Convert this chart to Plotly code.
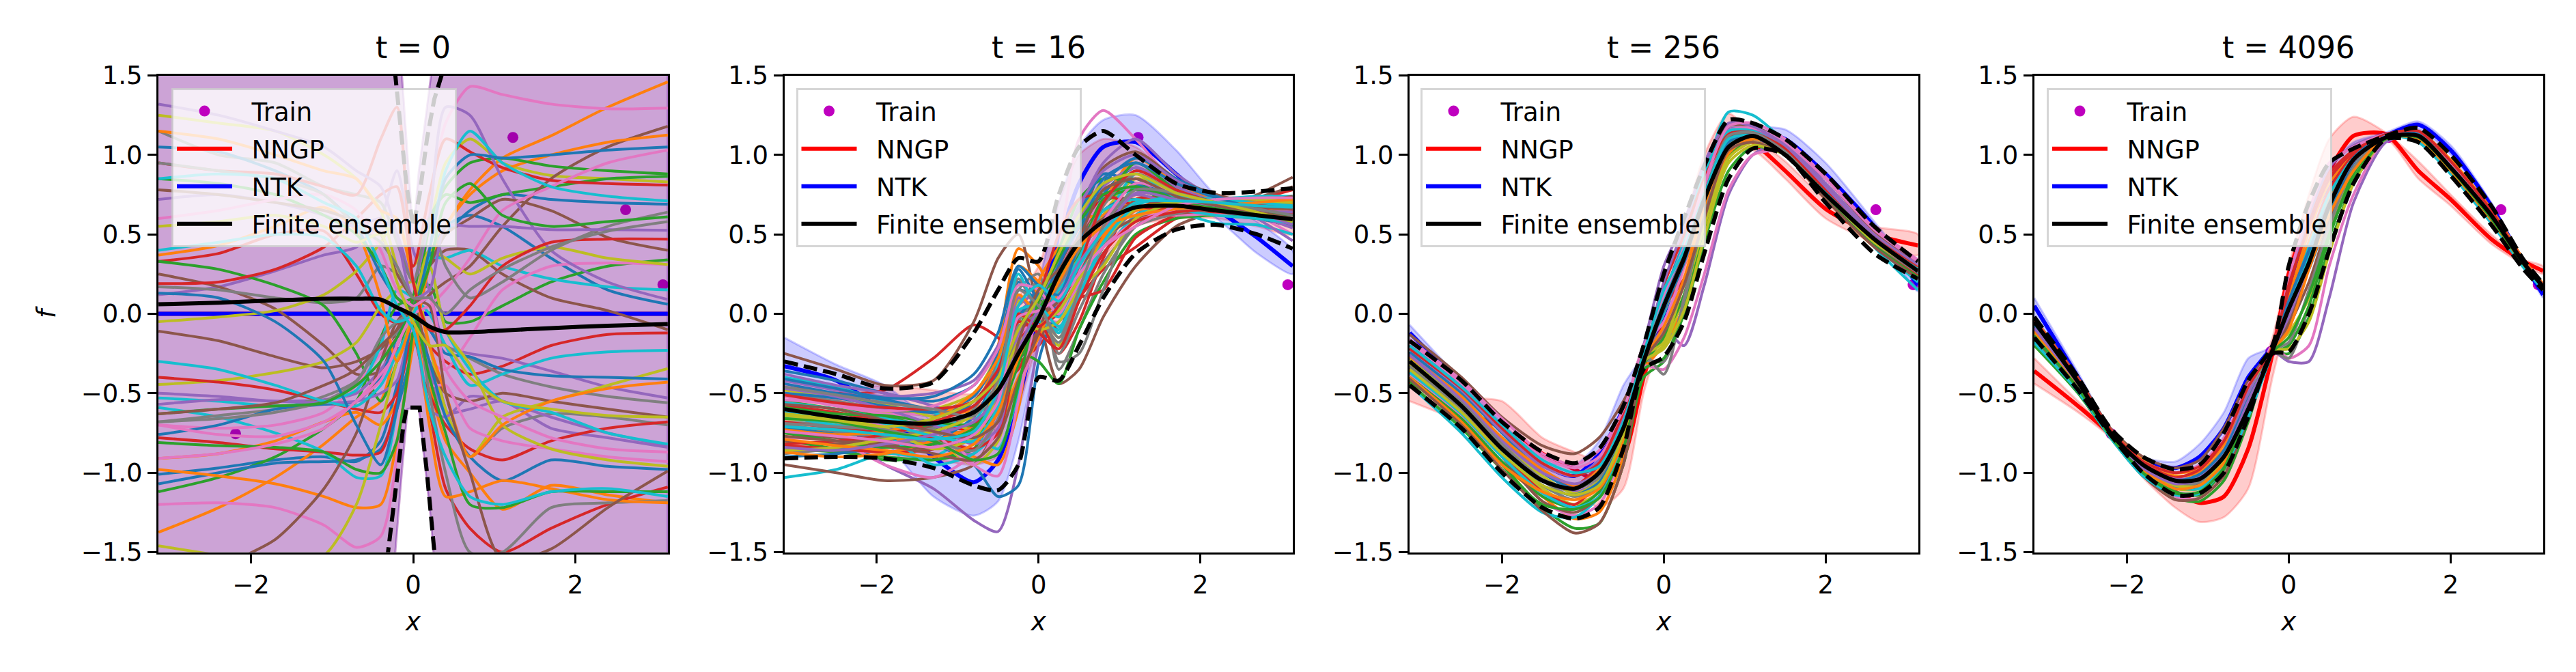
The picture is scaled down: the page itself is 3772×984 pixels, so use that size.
import plotly.graph_objects as go
from plotly.subplots import make_subplots

# colour cycle used by the ensemble members
tab10 = ["#1f77b4", "#ff7f0e", "#2ca02c", "#d62728", "#9467bd", "#8c564b", "#e377c2", "#7f7f7f", "#bcbd22", "#17becf"]

times = [0, 16, 256, 4096]
train_x = [-2.19, -0.22, 1.23, 2.62, 3.08]
train_y = [-0.755, -0.237, 1.11, 0.655, 0.183]

# --- t = 0 ---
x_t0 = [-3.14, -2.4, -1.7, -1.1, -0.7, -0.4, -0.2, 0, 0.2, 0.4, 0.7, 1.1, 1.7, 2.4, 3.14]
members_t0 = [
    [-1.01, -0.97, -0.92, -0.90, -0.93, -0.80, -0.45, -0.1, 0.35, 0.55, 0.62, 0.55, 0.35, 0.15, 0.06],
    [-1.375, -1.22, -1.03, -0.82, -0.65, -0.55, -0.2, 0.0, 0.30, 0.55, 0.78, 0.98, 1.12, 1.30, 1.46],
    [-1.12, -1.03, -0.90, -0.72, -0.55, -0.15, 0.05, 0.1, 0.18, -0.05, -0.05, 0.05, 0.20, 0.30, 0.34],
    [0.33, 0.38, 0.50, 0.52, 0.25, 0.0, -0.06, -0.04, -0.2, -0.3, -0.38, -0.33, -0.2, -0.13, -0.12],
    [0.12, 0.17, 0.27, 0.37, 0.42, 0.6, 0.9, 0.4, 0.15, -0.2, -0.25, -0.28, -0.36, -0.46, -0.53],
    [0.25, 0.17, 0.03, -0.20, -0.38, -0.36, -0.10, 0.1, 0.3, 0.4, 0.4, 0.25, 0.1, 0.02, -0.10],
    [-1.20, -1.19, -1.22, -1.33, -1.47, -1.4, -0.9, 0.0, 0.7, 1.2, 1.43, 1.38, 1.32, 1.29, 1.295],
    [0.17, 0.15, 0.10, 0.07, 0.10, 0.30, 0.25, 0.1, -0.1, -0.2, -0.28, -0.38, -0.46, -0.52, -0.56],
    [-0.05, -0.02, 0.02, 0.12, 0.27, 0.45, 0.6, 0.3, 0.55, 0.95, 1.1, 0.95, 0.87, 0.85, 0.83],
    [-0.59, -0.65, -0.75, -0.87, -1.03, -1.02, -0.6, 0.0, 0.35, 0.35, 0.40, 0.30, 0.22, 0.17, 0.15],
    [-1.07, -1.00, -0.94, -0.93, -0.92, -0.85, -0.6, -0.2, 0.3, 0.5, 0.65, 0.75, 0.72, 0.70, 0.69],
    [-0.91, -0.88, -0.8, -0.68, -0.62, -0.70, -0.55, -0.1, -0.45, -0.8, -1.0, -1.23, -1.08, -1.14, -1.19],
    [0.33, 0.28, 0.18, 0.05, -0.25, -0.55, -0.3, 0.1, 0.6, 0.75, 0.70, 0.75, 0.80, 0.85, 0.865],
    [-0.78, -0.81, -0.85, -0.87, -0.89, -0.87, -0.55, -0.15, -0.6, -1.1, -1.35, -1.5, -1.35, -1.2, -1.09],
    [-0.50, -0.52, -0.55, -0.54, -0.50, -0.35, -0.2, 0.0, -0.35, -0.62, -0.6, -0.55, -0.72, -0.78, -0.84],
    [-0.11, -0.17, -0.27, -0.34, -0.30, -0.22, -0.1, 0.0, 0.12, 0.2, 0.3, 0.55, 0.85, 1.05, 1.18],
    [-0.70, -0.72, -0.70, -0.62, -0.45, -0.25, -0.15, -0.05, -0.3, -0.35, -0.15, 0.15, 0.3, 0.32, 0.31],
    [-0.68, -0.64, -0.60, -0.52, -0.42, -0.2, -0.12, -0.05, -0.2, -0.6, -0.9, -0.72, -0.63, -0.65, -0.70],
    [-0.445, -0.42, -0.37, -0.30, -0.18, 0.05, 0.15, 0.2, -0.2, -0.6, -0.9, -0.65, -0.55, -0.45, -0.345],
    [-0.53, -0.55, -0.58, -0.55, -0.48, -0.2, 0.15, 0.1, 0.0, -0.2, -0.45, -0.38, -0.28, -0.24, -0.23],
    [-0.76, -0.70, -0.60, -0.57, -0.55, -0.4, -0.15, 0.0, -0.1, -0.25, -0.27, -0.35, -0.39, -0.40, -0.41],
    [-0.98, -1.02, -1.07, -1.15, -1.22, -1.2, -0.8, -0.2, 0.3, 0.55, 0.75, 0.9, 1.0, 1.08, 1.125],
    [-0.81, -0.83, -0.84, -0.87, -0.98, -1.0, -0.8, -0.1, 0.55, 0.8, 0.95, 0.98, 0.93, 0.9, 0.88],
    [-0.40, -0.43, -0.48, -0.55, -0.6, -0.62, -0.5, -0.05, -0.5, -0.7, -0.85, -0.92, -0.8, -0.72, -0.68],
    [-0.57, -0.54, -0.55, -0.56, -0.55, -0.5, -0.42, -0.05, -0.6, -0.65, -0.52, -0.55, -0.65, -0.75, -0.83],
    [-1.8, -1.6, -1.42, -1.1, -0.75, -0.3, -0.05, 0.05, -0.3, -0.5, -0.55, -0.5, -0.55, -0.6, -0.65],
    [-0.70, -0.76, -0.77, -0.68, -0.55, -0.38, -0.25, -0.1, -0.45, -0.45, -0.72, -0.8, -0.85, -0.9, -0.93],
    [-0.68, -0.66, -0.62, -0.55, -0.43, -0.15, -0.05, 0.0, -0.5, -1.0, -1.5, -1.5, -1.22, -1.19, -1.175],
    [-1.46, -1.52, -1.58, -1.52, -1.2, -0.7, -0.3, 0, 0.4, 0.35, 0.25, 0.35, 0.42, 0.35, 0.31],
    [-0.30, -0.35, -0.45, -0.55, -0.58, -0.45, -0.25, -0.05, 0.3, -0.1, -0.35, -0.55, -0.62, -0.75, -0.82],
    [0.13, 0.1, -0.05, -0.3, -0.7, -0.95, -0.6, -0.05, -0.3, -0.65, -0.90, -1.05, -0.92, -0.96, -0.98],
    [0.37, 0.43, 0.55, 0.67, 0.52, 0.1, -0.3, -0.05, -0.7, -1.15, -1.12, -1.05, -1.1, -1.17, -1.19],
    [-0.63, -0.60, -0.58, -0.56, -0.45, -0.3, -0.15, 0.0, -0.4, -0.75, -1.2, -1.22, -1.12, -1.12, -1.12],
    [0.19, 0.2, 0.28, 0.42, 0.6, 0.75, 0.8, 0.3, 0.75, 1.1, 1.02, 0.92, 0.84, 0.82, 0.81],
    [0.72, 0.75, 0.7, 0.62, 0.55, 0.6, 0.5, 0.2, 0.6, 1.3, 1.25, 0.85, 0.4, 0.2, 0.09],
    [-0.63, -0.6, -0.56, -0.45, -0.35, -0.2, -0.1, 0.05, 0.3, 0.5, 0.6, 0.72, 0.65, 0.48, 0.40],
    [-0.91, -0.88, -0.82, -0.72, -0.55, -0.42, -0.2, 0.0, 0.05, 0.15, 0.35, 0.65, 0.8, 0.95, 1.03],
    [1.15, 1.0, 0.95, 0.8, 0.75, 0.7, 0.45, 0.2, 0.6, 0.3, 0.1, 0.2, 0.4, 0.55, 0.64],
    [1.25, 1.2, 1.15, 1.0, 0.85, 0.65, 0.3, 0.1, 0.3, -0.1, -0.32, -0.7, -0.85, -0.92, -0.96],
    [0.4, 0.45, 0.5, 0.48, 0.3, 0.02, -0.05, 0.0, 0.4, 0.9, 1.15, 0.95, 0.8, 0.74, 0.71],
    [1.05, 1.02, 0.9, 0.75, 0.55, 0.25, 0.1, 0.05, 0.4, 0.85, 1.0, 0.98, 1.0, 1.03, 1.05],
    [1.15, 1.1, 1.0, 0.9, 0.85, 0.65, 0.6, 0.2, -0.2, -0.5, -0.9, -0.7, -0.55, -0.47, -0.43],
    [0.85, 0.82, 0.75, 0.62, 0.5, 0.3, 0.1, 0.05, 0.3, 0.7, 0.82, 0.62, 0.55, 0.58, 0.61],
    [0.95, 0.9, 0.88, 0.8, 0.75, 1.1, 1.3, 0.2, -0.1, -0.1, 0.05, 0.3, 0.45, 0.47, 0.47],
    [1.32, 1.25, 1.15, 1.05, 0.9, 0.8, 0.5, 0.1, 0.15, 0.55, 0.55, 0.55, 0.53, 0.53, 0.525],
    [0.78, 0.75, 0.7, 0.65, 0.58, 0.5, 0.25, 0.1, 0.05, -0.5, -1.0, -1.55, -1.48, -1.22, -0.99],
    [0.6, 0.65, 0.72, 0.75, 0.65, 0.4, 0.15, 0.05, 0.1, -0.35, -0.55, -0.65, -0.78, -0.85, -0.87],
    [0.95, 0.9, 0.85, 0.75, 0.55, 0.45, 0.3, 0.1, 0.1, 0.0, 0.15, 0.28, 0.42, 0.52, 0.58],
    [0.55, 0.58, 0.62, 0.55, 0.45, 0.5, 0.2, -0.05, -0.2, -0.2, -0.4, -0.55, -0.60, -0.64, -0.65],
    [0.85, 0.88, 0.85, 0.7, 0.6, 0.3, 0.05, -0.1, -0.6, -0.9, -1.15, -1.2, -1.12, -1.1, -1.15],
]
mean_t0 = [0.06, 0.07, 0.085, 0.095, 0.095, 0.09, 0.04, -0.01, -0.08, -0.115, -0.115, -0.105, -0.09, -0.075, -0.065]
dash_x_t0 = [-3.14, -0.5, -0.31, -0.22, -0.12, -0.08, 0, 0.08, 0.17, 0.26, 0.35, 0.5, 3.14]
dash_up_t0 = [6, 3.8, 2.1, 1.5, 1.0, 0.8, 0.55, 0.75, 1.1, 1.35, 1.5, 2.4, 6]
dash_low_t0 = [-6, -3, -1.5, -1.1, -0.7, -0.59, -0.59, -0.59, -1.0, -1.5, -2.0, -2.8, -6]
theory_x_t0 = [-3.14, -0.5, -0.22, -0.14, -0.07, 0, 0.07, 0.22, 0.25, 0.5, 3.14]
theory_mean_t0 = [0, 0, 0, 0, 0, 0, 0, 0, 0, 0, 0]
theory_up_t0 = [6, 4, 2.1, 1.5, 1.0, 0.5, 0.9, 1.5, 1.7, 4, 6]
theory_low_t0 = [-6, -3.2, -1.5, -1.0, -0.6, -0.59, -0.6, -1.3, -1.5, -3.2, -6]

# --- t = 16 ---
x_t16 = [-3.14, -2.5, -1.9, -1.3, -0.8, -0.5, -0.25, 0, 0.25, 0.5, 0.8, 1.2, 1.7, 2.2, 2.7, 3.14]
members_t16 = [
    [-.36, -.42, -.5, -.55, -.45, -.2, .2, .05, -.1, .3, .75, .92, .78, .7, .65, .6],
    [-.52, -.55, -.6, -.62, -.6, -.2, .41, .3, .1, .25, .55, .72, .7, .68, .66, .64],
    [-.8, -.85, -.92, -.9, -.85, -.5, .0, .05, .35, .55, .7, .78, .7, .65, .6, .55],
    [-.45, -.5, -.48, -.28, -.07, -.15, -.3, -.2, -.05, .1, .28, .42, .6, .66, .72, .78],
    [-.62, -.75, -.95, -1.1, -1.3, -1.37, -.95, -.2, .1, .4, .62, .82, .74, .7, .64, .58],
    [-.25, -.35, -.45, -.42, -.05, .35, .5, .0, -.44, -.35, -.02, .3, .55, .65, .75, .86],
    [-.45, -.55, -.62, -.7, -.8, -.85, -.5, -.1, .4, 1.1, 1.28, 1.1, .82, .72, .62, .5],
    [-.68, -.7, -.72, -.75, -.72, -.4, .05, .2, -.35, -.1, .25, .55, .68, .7, .7, .7],
    [-.55, -.6, -.62, -.6, -.5, -.25, .1, -.02, -.2, .2, .62, .85, .78, .72, .68, .65],
    [-1.03, -.98, -.88, -.9, -.72, -.45, -.1, .0, -.12, .1, .45, .8, .65, .57, .56, .5],
    [-.72, -.75, -.78, -.82, -.95, -1.15, -1.08, -.3, .1, .45, .65, .75, .68, .64, .6, .56],
    [-.6, -.62, -.68, -.72, -.75, -.6, .3, .2, .05, .4, .7, .98, .82, .72, .66, .6],
    [-.85, -.87, -.9, -.92, -.85, -.6, -.25, -.3, -.44, -.1, .2, .5, .6, .62, .6, .6],
    [-.58, -.62, -.68, -.72, -.62, -.45, -.35, -.1, .0, .1, .15, .48, .62, .66, .7, .72],
    [-.42, -.48, -.52, -.5, -.42, -.2, .05, .15, .3, .65, .95, 1.1, .88, .72, .6, .46],
    [-.95, -1.0, -1.05, -1.03, -.95, -.7, -.3, -.1, .15, .45, .72, .72, .65, .66, .73, .8],
    [-.78, -.8, -.95, -1.03, -.88, -.62, -.3, .05, .28, .5, .72, .88, .75, .68, .63, .6],
    [-.5, -.55, -.6, -.64, -.58, -.3, .15, .25, -.3, -.25, .15, .62, .72, .7, .67, .65],
    [-.66, -.68, -.7, -.78, -.95, -.8, -.25, .02, -.15, .08, .5, .72, .72, .7, .7, .72],
    [-.4, -.46, -.55, -.62, -.75, -.85, -.5, .05, -.02, .25, .55, .88, .72, .66, .62, .58],
    [-.9, -.88, -.84, -.8, -.65, -.35, .15, .1, .2, .5, .78, .85, .72, .68, .65, .62],
    [-.7, -.74, -.78, -.82, -.9, -.95, -.6, .2, .42, .6, .62, .75, .68, .65, .64, .63],
    [-.55, -.6, -.65, -.72, -.8, -.55, -.15, .05, .4, .72, .85, .82, .72, .68, .64, .6],
    [-.83, -.85, -.87, -.85, -.7, -.5, -.2, -.05, -.25, -.05, .35, .72, .72, .68, .66, .65],
    [-.62, -.67, -.72, -.82, -.88, -.6, .0, .1, .05, .35, .6, .75, .68, .64, .62, .6],
    [-.75, -.78, -.82, -.85, -.75, -.42, .1, .0, .3, .55, .92, 1.02, .85, .75, .68, .6],
    [-.52, -.58, -.63, -.65, -.95, -1.02, -.55, .0, .12, .32, .55, .62, .62, .63, .64, .66],
    [-.88, -.85, -.82, -.78, -.6, -.3, .22, .0, -.18, .1, .42, .65, .66, .67, .68, .69],
    [-.48, -.52, -.57, -.65, -.72, -.45, .08, .05, .2, .42, .58, .7, .7, .7, .7, .7],
    [-.65, -.7, -.76, -.95, -.88, -.72, -.2, -.05, -.1, .18, .38, .62, .7, .72, .74, .74],
    [-.5, -.53, -.58, -.62, -.52, -.25, .28, .1, .3, .62, .88, .82, .7, .66, .62, .58],
    [-.87, -.9, -.88, -.8, -.72, -.68, -.4, -.15, .15, .35, .5, .65, .67, .67, .68, .68],
    [-.75, -.8, -.84, -.82, -.72, -.5, -.1, .12, .22, .38, .72, .78, .7, .66, .64, .62],
    [-.68, -.72, -.75, -.78, -.85, -.75, -.2, .1, .5, .72, .75, .68, .65, .64, .63, .62],
    [-.38, -.45, -.5, -.58, -.66, -.55, .1, .0, .1, .6, .8, .92, .8, .7, .62, .54],
    [-.8, -.82, -.8, -.7, -.55, -.35, -.08, -.02, .08, .28, .48, .6, .63, .66, .7, .74],
    [-.6, -.64, -.7, -.75, -.95, -.7, -.15, -.03, -.05, .2, .42, .58, .66, .7, .7, .7],
    [-.7, -.74, -.78, -.72, -.62, -.55, -.05, .08, -.25, .02, .32, .55, .63, .68, .7, .72],
    [-.63, -.66, -.72, -.85, -.78, -.5, .0, -.1, -.05, .15, .3, .6, .7, .72, .72, .71],
    [-.56, -.6, -.66, -.7, -.68, -.32, .25, .02, .15, .35, .65, .72, .66, .62, .6, .57],
    [-.44, -.5, -.54, -.6, -.58, -.38, -.02, .12, .32, .55, .82, .98, .85, .74, .67, .62],
    [-.73, -.76, -.74, -.66, -.5, -.28, .12, .0, .02, .22, .48, .7, .68, .68, .66, .66],
    [-.59, -.63, -.64, -.68, -.7, -.62, -.32, .02, .22, .42, .68, .95, .78, .69, .65, .62],
    [-.82, -.8, -.76, -.68, -.58, -.4, -.05, -.12, -.22, .08, .38, .58, .64, .66, .68, .7],
    [-.47, -.52, -.6, -.7, -.82, -.72, -.12, .08, .35, .68, .9, 1.0, .84, .72, .64, .56],
    [-.77, -.8, -.83, -.88, -.92, -.78, -.42, -.12, .25, .48, .6, .7, .7, .68, .67, .66],
    [-.54, -.57, -.61, -.58, -.45, -.22, .18, .15, .0, .28, .58, .82, .76, .71, .66, .61],
    [-.69, -.71, -.73, -.8, -.86, -.66, -.08, .0, .18, .4, .68, .88, .76, .68, .63, .58],
    [-.86, -.84, -.79, -.74, -.64, -.46, -.18, -.08, .02, .22, .45, .66, .7, .7, .7, .7],
    [-.61, -.65, -.69, -.77, -.8, -.58, .02, .05, -.08, .12, .45, .68, .74, .72, .7, .68],
    [-.41, -.47, -.53, -.52, -.38, -.12, .3, .18, .12, .45, .85, .95, .82, .73, .66, .58],
    [-.79, -.83, -.86, -.9, -.82, -.62, -.28, -.02, .2, .42, .55, .62, .66, .68, .7, .72],
    [-.66, -.68, -.74, -.8, -.92, -.88, -.45, .08, .35, .58, .75, .8, .72, .67, .64, .62],
    [-.51, -.56, -.59, -.6, -.55, -.35, .0, -.08, .05, .3, .7, .9, .78, .7, .66, .63],
    [-.84, -.86, -.82, -.76, -.68, -.52, -.22, .02, .1, .32, .52, .76, .72, .68, .65, .64],
    [-.57, -.6, -.67, -.74, -.78, -.68, -.18, .15, .28, .48, .78, .85, .74, .68, .64, .6],
    [-.74, -.77, -.8, -.84, -.76, -.55, -.02, .02, .1, .25, .42, .55, .68, .72, .73, .73],
    [-.46, -.51, -.56, -.6, -.64, -.42, .15, .05, -.15, .15, .55, .78, .76, .7, .66, .62],
    [-.64, -.67, -.71, -.66, -.55, -.4, -.1, .1, .38, .62, .82, .88, .76, .7, .64, .58],
    [-.71, -.73, -.76, -.79, -.74, -.48, .05, .18, .08, .3, .52, .7, .71, .7, .68, .67],
]
mean_t16 = [-.6, -.65, -.68, -.69, -.62, -.48, -.25, -.03, .25, .45, .58, .67, .68, .65, .62, .595]
dash_up_t16 = [-.3, -.38, -.47, -.43, -.12, .15, .35, .33, .75, 1.05, 1.15, 1.0, .82, .76, .77, .79]
dash_low_t16 = [-.91, -.9, -.91, -.97, -1.08, -1.11, -.95, -.4, -.42, -.2, .1, .38, .53, .56, .5, .41]
nngp_mean_t16 = [-.62, -.66, -.68, -.70, -.72, -.6, -.25, 0, .3, .55, .72, .8, .72, .68, .64, .6]
nngp_up_t16 = [-.4, -.48, -.45, -.48, -.5, -.3, .1, .3, .7, 1.0, 1.1, 1.05, .85, .75, .72, .7]
nngp_low_t16 = [-.85, -.85, -.9, -.92, -.95, -.9, -.6, -.2, -.1, .1, .35, .55, .6, .6, .55, .5]
ntk_mean_t16 = [-.33, -.42, -.62, -.9, -1.06, -.92, -.55, 0, .45, .82, 1.05, 1.08, .88, .66, .48, .3]
ntk_up_t16 = [-.15, -.32, -.45, -.68, -.85, -.65, -.2, .2, .7, 1.05, 1.22, 1.25, 1.03, .74, .58, .4]
ntk_low_t16 = [-.5, -.55, -.8, -1.15, -1.27, -1.18, -.8, -.2, .2, .55, .85, .93, .75, .6, .38, .25]

# --- t = 256 ---
x_t256 = [-3.14, -2.5, -2, -1.5, -1.1, -0.8, -0.5, -0.25, 0, 0.25, 0.5, 0.8, 1.1, 1.5, 2, 2.6, 3.14]
members_t256 = [
    [-.2, -.45, -.72, -.95, -1.02, -.95, -.7, -.28, .12, .45, .85, 1.1, 1.13, 1.02, .78, .48, .28],
    [-.36, -.65, -.95, -1.15, -1.29, -1.25, -.9, -.35, -.2, .05, .55, 1.0, 1.08, 1.0, .72, .42, .24],
    [-.42, -.68, -.95, -1.22, -1.35, -1.32, -.95, -.4, -.3, .05, .5, .98, 1.1, 1.03, .75, .46, .25],
    [-.3, -.55, -.78, -1.0, -1.08, -.95, -.62, -.2, .1, .4, .82, 1.13, 1.15, 1.02, .76, .46, .26],
    [-.25, -.52, -.8, -1.05, -1.12, -1.05, -.78, -.3, -.1, -.2, .18, .75, 1.0, 1.08, .82, .5, .3],
    [-.13, -.4, -.65, -.83, -.88, -.78, -.55, -.28, .0, .4, .9, 1.18, 1.18, 1.08, .85, .52, .32],
    [-.38, -.65, -.9, -1.18, -1.27, -1.2, -.85, -.33, -.35, -.15, .25, .78, 1.0, 1.02, .76, .47, .27],
    [-.28, -.55, -.82, -1.05, -1.15, -1.08, -.78, -.3, -.3, .08, .6, 1.05, 1.1, 1.03, .78, .48, .28],
    [-.32, -.6, -.87, -1.1, -1.2, -1.12, -.82, -.3, -.2, .12, .55, .98, 1.08, 1.0, .74, .44, .27],
    [-.45, -.75, -1.03, -1.25, -1.28, -1.15, -.8, -.28, .0, .35, .85, 1.27, 1.25, 1.08, .8, .42, .15],
    [-.24, -.5, -.75, -1.0, -1.1, -1.02, -.72, -.3, .08, .4, .78, 1.08, 1.12, 1.02, .78, .46, .25],
    [-.27, -.52, -.78, -.98, -1.08, -.98, -.66, -.22, .02, .3, .68, 1.02, 1.1, 1.05, .8, .5, .3],
    [-.4, -.66, -.93, -1.15, -1.22, -1.12, -.82, -.32, -.15, .12, .62, 1.08, 1.12, 1.02, .74, .44, .24],
    [-.35, -.6, -.88, -1.12, -1.2, -1.05, -.72, -.22, .05, .22, .7, 1.1, 1.15, 1.03, .76, .45, .24],
    [-.22, -.48, -.74, -.96, -1.02, -.92, -.65, -.2, .3, .58, .92, 1.16, 1.16, 1.06, .82, .5, .31],
    [-.34, -.62, -.9, -1.18, -1.25, -1.15, -.78, -.28, .05, .38, .78, 1.12, 1.13, 1.02, .76, .45, .26],
    [-.18, -.44, -.7, -.9, -.97, -.9, -.62, -.2, -.05, .3, .8, 1.15, 1.17, 1.08, .85, .53, .33],
    [-.33, -.6, -.85, -1.08, -1.17, -1.08, -.72, -.25, -.38, .1, .62, 1.05, 1.12, 1.05, .8, .48, .29],
    [-.29, -.56, -.82, -1.02, -1.13, -1.05, -.75, -.27, -.18, .2, .68, 1.08, 1.13, 1.03, .78, .47, .27],
    [-.37, -.63, -.9, -1.13, -1.22, -1.15, -.82, -.28, .1, .45, .9, 1.15, 1.15, 1.03, .74, .43, .2],
    [-.3, -.58, -.86, -1.08, -1.14, -1.06, -.76, -.3, .02, .32, .72, 1.08, 1.13, 1.02, .76, .46, .26],
    [-.4, -.68, -.95, -1.12, -1.17, -1.1, -.8, -.3, -.08, .22, .68, 1.05, 1.11, 1.02, .77, .47, .28],
    [-.44, -.72, -.98, -1.2, -1.23, -1.16, -.85, -.35, -.28, .0, .45, .9, 1.05, 1.0, .73, .43, .23],
    [-.22, -.47, -.72, -.94, -1.02, -.94, -.62, -.25, .18, .5, .85, 1.13, 1.14, 1.04, .78, .48, .29],
    [-.26, -.54, -.8, -1.0, -1.07, -1.0, -.68, -.26, .2, .55, .95, 1.2, 1.18, 1.06, .8, .48, .27],
    [-.41, -.7, -.98, -1.24, -1.38, -1.32, -.95, -.3, -.12, .18, .6, 1.03, 1.08, 1.0, .72, .42, .22],
    [-.16, -.42, -.66, -.88, -.95, -.86, -.6, -.22, .12, .42, .82, 1.18, 1.2, 1.1, .86, .54, .34],
    [-.3, -.56, -.82, -1.04, -1.1, -1.03, -.7, -.24, .05, .35, .75, 1.12, 1.14, 1.02, .75, .45, .26],
    [-.35, -.62, -.88, -1.08, -1.14, -1.08, -.76, -.3, -.22, .02, .48, .95, 1.06, 1.0, .75, .45, .28],
    [-.2, -.46, -.7, -.92, -1.0, -.96, -.68, -.25, .15, .4, .75, 1.1, 1.12, 1.0, .76, .47, .28],
]
mean_t256 = [-.3, -.58, -.85, -1.05, -1.1, -1.0, -.72, -.3, .05, .35, .72, 1.05, 1.12, 1.0, .75, .47, .27]
dash_up_t256 = [-.17, -.42, -.68, -.87, -.94, -.85, -.58, -.2, .25, .6, .93, 1.22, 1.2, 1.1, .88, .55, .33]
dash_low_t256 = [-.45, -.72, -1.0, -1.22, -1.29, -1.22, -.85, -.35, -.27, -.05, .38, .85, 1.04, 1.0, .7, .38, .22]
nngp_mean_t256 = [-.43, -.6, -.72, -.88, -.98, -1.05, -.9, -.4, 0, .4, .85, 1.15, 1.08, .9, .66, .5, .43]
nngp_up_t256 = [-.33, -.52, -.55, -.78, -.87, -.92, -.72, -.25, .1, .55, 1.0, 1.26, 1.12, .96, .72, .55, .5]
nngp_low_t256 = [-.55, -.68, -.8, -.98, -1.1, -1.22, -1.1, -.5, -.1, .25, .7, 1.02, 1.03, .85, .6, .45, .37]
ntk_mean_t256 = [-.12, -.45, -.72, -.95, -1.02, -.88, -.6, -.28, .0, .4, .85, 1.15, 1.15, 1.1, .88, .55, .18]
ntk_up_t256 = [-.07, -.42, -.68, -.92, -.95, -.8, -.45, -.25, .1, .5, .95, 1.2, 1.18, 1.16, .95, .58, .22]
ntk_low_t256 = [-.17, -.48, -.75, -.98, -1.08, -.95, -.75, -.32, -.1, .3, .75, 1.1, 1.12, 1.05, .85, .52, .14]

# --- t = 4096 ---
x_t4096 = [-3.14, -2.6, -2.2, -1.8, -1.4, -1.1, -.8, -.5, -.2, 0, .25, .5, .8, 1.2, 1.6, 2, 2.5, 2.9, 3.14]
members_t4096 = [
    [-.08, -.44, -.75, -.96, -1.06, -1.03, -.88, -.55, -.23, .05, .38, .72, .98, 1.12, 1.12, .93, .62, .32, .18],
    [-.05, -.42, -.74, -.93, -1.0, -.98, -.82, -.5, -.2, .1, .52, .82, 1.0, 1.12, 1.15, .97, .66, .34, .17],
    [-.2, -.5, -.78, -1.02, -1.16, -1.18, -1.05, -.68, -.25, -.25, -.02, .42, .82, 1.1, 1.1, .9, .6, .32, .18],
    [-.1, -.45, -.76, -.98, -1.08, -1.07, -.9, -.52, -.22, .08, .45, .78, 1.0, 1.13, 1.13, .92, .6, .3, .16],
    [-.12, -.46, -.77, -.99, -1.12, -1.13, -.98, -.62, -.24, -.3, -.3, .1, .7, 1.08, 1.12, .94, .63, .33, .18],
    [-.03, -.4, -.72, -.9, -.97, -.92, -.72, -.42, -.22, -.05, .3, .7, .98, 1.12, 1.15, .95, .64, .34, .18],
    [-.14, -.47, -.77, -1.0, -1.15, -1.16, -.98, -.62, -.2, -.28, -.2, .3, .75, 1.1, 1.1, .9, .6, .3, .16],
    [-.07, -.43, -.74, -.95, -1.05, -1.02, -.88, -.58, -.24, -.28, .05, .5, .9, 1.12, 1.13, .94, .63, .33, .17],
    [-.16, -.48, -.77, -1.0, -1.1, -1.1, -.93, -.56, -.23, -.12, .1, .55, .9, 1.11, 1.12, .93, .62, .32, .17],
    [-.11, -.45, -.75, -.97, -1.09, -1.1, -.95, -.62, -.24, .0, .35, .65, .95, 1.12, 1.08, .88, .58, .3, .15],
    [-.13, -.46, -.76, -1.0, -1.1, -1.08, -.92, -.6, -.23, .02, .28, .62, .95, 1.13, 1.11, .91, .6, .31, .18],
    [-.03, -.41, -.73, -.92, -1.02, -1.0, -.85, -.52, -.2, .12, .45, .72, .96, 1.12, 1.14, .96, .65, .34, .19],
    [-.17, -.49, -.78, -1.0, -1.12, -1.14, -.98, -.6, -.25, -.2, .05, .48, .88, 1.11, 1.1, .9, .6, .31, .17],
    [-.06, -.43, -.74, -.94, -1.03, -.98, -.8, -.45, -.22, .15, .6, .88, 1.03, 1.13, 1.14, .95, .62, .32, .16],
    [-.09, -.44, -.75, -.96, -1.04, -1.02, -.86, -.5, -.22, .2, .62, .92, 1.06, 1.13, 1.14, .95, .64, .33, .18],
    [-.15, -.47, -.77, -1.02, -1.17, -1.16, -1.02, -.65, -.24, -.08, .2, .58, .92, 1.1, 1.12, .92, .62, .32, .17],
    [-.05, -.42, -.73, -.93, -1.0, -.95, -.78, -.45, -.21, .22, .65, .95, 1.05, 1.13, 1.13, .95, .63, .33, .17],
    [-.1, -.45, -.76, -.97, -1.07, -1.06, -.9, -.56, -.23, -.18, .15, .55, .92, 1.12, 1.13, .93, .62, .32, .18],
    [-.12, -.46, -.76, -.98, -1.08, -1.08, -.92, -.56, -.23, -.22, -.05, .38, .82, 1.1, 1.12, .93, .62, .32, .17],
    [-.18, -.49, -.78, -1.02, -1.14, -1.13, -.97, -.65, -.24, .05, .42, .75, .98, 1.12, 1.09, .88, .57, .29, .15],
    [-.07, -.43, -.75, -.95, -1.05, -1.01, -.86, -.54, -.22, .08, .4, .7, .98, 1.13, 1.13, .92, .62, .32, .18],
    [-.11, -.45, -.76, -.98, -1.1, -1.08, -.94, -.6, -.24, -.1, .28, .62, .9, 1.11, 1.1, .9, .59, .31, .17],
    [-.14, -.47, -.77, -1.0, -1.13, -1.12, -.97, -.6, -.24, -.15, .12, .5, .85, 1.1, 1.11, .91, .6, .31, .17],
    [-.04, -.41, -.73, -.93, -1.0, -.96, -.8, -.46, -.21, .18, .55, .85, 1.02, 1.13, 1.15, .96, .65, .33, .18],
    [-.09, -.44, -.75, -.97, -1.07, -1.04, -.9, -.55, -.23, -.02, .32, .68, .96, 1.12, 1.12, .93, .62, .32, .17],
]
mean_t4096 = [-.05, -.43, -.75, -.95, -1.05, -1.04, -.9, -.6, -.23, .03, .32, .68, .97, 1.11, 1.12, .92, .62, .32, .17]
dash_up_t4096 = [-.02, -.4, -.72, -.9, -.98, -.95, -.75, -.42, -.2, .3, .7, .95, 1.04, 1.12, 1.17, 1.0, .68, .34, .19]
dash_low_t4096 = [-.15, -.48, -.76, -1.0, -1.14, -1.13, -1.0, -.65, -.25, -.24, .0, .4, .82, 1.1, 1.08, .87, .56, .28, .15]
nngp_mean_t4096 = [-.36, -.58, -.76, -.98, -1.12, -1.19, -1.15, -.85, -.25, .25, .62, .9, 1.12, 1.13, .9, .72, .47, .33, .27]
nngp_up_t4096 = [-.28, -.55, -.74, -.9, -1.05, -1.12, -1.0, -.55, -.15, .3, .75, 1.1, 1.24, 1.14, .96, .75, .5, .34, .3]
nngp_low_t4096 = [-.44, -.62, -.78, -1.03, -1.22, -1.31, -1.28, -1.1, -.4, .0, .45, .8, 1.0, 1.1, .85, .68, .44, .31, .25]
ntk_mean_t4096 = [.05, -.4, -.74, -.92, -.97, -.9, -.72, -.4, -.2, .1, .55, .82, 1.0, 1.12, 1.19, 1.03, .68, .32, .12]
ntk_up_t4096 = [.1, -.37, -.72, -.9, -.93, -.82, -.62, -.28, -.2, .2, .65, .92, 1.08, 1.14, 1.21, 1.06, .7, .33, .13]
ntk_low_t4096 = [-.02, -.43, -.76, -.95, -1.0, -.95, -.8, -.48, -.22, 0, .45, .75, .95, 1.1, 1.16, 1.0, .66, .31, .1]

# axes boxes in pixels of the 3772x984 page, the browser adds an 8px body margin
W, H = 3772, 984
page_margin = 8
panel_left = [232, 1148.5, 2064, 2978.6]
panel_right = [978, 1893, 2808.6, 3724]
plot_top, plot_bottom = 110.5, 808.5
legend_left = [251, 1165.5, 2080, 2997]
legend_top = 129

fig = make_subplots(rows=1, cols=4)


def add_band(col, x, low, up, color, shape):
    fig.add_trace(
        go.Scatter(
            x=x + x[::-1],
            y=up + low[::-1],
            mode="lines",
            fill="toself",
            fillcolor=f"rgba({color},0.2)",
            line=dict(color=f"rgba({color},0.2)", width=3, shape=shape, smoothing=0.7),
            showlegend=False,
            hoverinfo="skip",
        ),
        row=1,
        col=col,
    )


def add_panel(col, x, members, mean, dash_x, dash_up, dash_low, nngp, ntk, shape="spline"):
    legend_id = "legend" if col == 1 else f"legend{col}"

    fig.add_trace(
        go.Scatter(
            x=train_x, y=train_y, mode="markers", name="\u00a0\u00a0Train",
            marker=dict(color="#bf00bf", size=16),
            legend=legend_id, legendgroup="a",
        ),
        row=1, col=col,
    )

    # NNGP then NTK: mean line plus shaded band
    for name, group, color, rgb, (tx, t_mean, t_low, t_up) in [
        ("\u00a0\u00a0NNGP", "b", "#ff0000", "255,0,0", nngp),
        ("\u00a0\u00a0NTK", "c", "#0000ff", "0,0,255", ntk),
    ]:
        fig.add_trace(
            go.Scatter(
                x=tx, y=t_mean, mode="lines", name=name,
                line=dict(color=color, width=6, shape=shape, smoothing=0.7),
                legend=legend_id, legendgroup=group,
            ),
            row=1, col=col,
        )
        add_band(col, tx, t_low, t_up, rgb, shape)

    for i, curve in enumerate(members):
        fig.add_trace(
            go.Scatter(
                x=x, y=curve, mode="lines",
                line=dict(color=tab10[i % 10], width=4, shape="spline", smoothing=0.7),
                showlegend=False, hoverinfo="skip",
            ),
            row=1, col=col,
        )

    fig.add_trace(
        go.Scatter(
            x=x, y=mean, mode="lines", name="\u00a0\u00a0Finite ensemble",
            line=dict(color="black", width=6, shape="spline", smoothing=0.7),
            legend=legend_id, legendgroup="d",
        ),
        row=1, col=col,
    )
    for bound in (dash_up, dash_low):
        fig.add_trace(
            go.Scatter(
                x=dash_x, y=bound, mode="lines",
                line=dict(color="black", width=6, dash="20px,9px", shape=shape, smoothing=0.7),
                showlegend=False, hoverinfo="skip",
            ),
            row=1, col=col,
        )


add_panel(
    1, x_t0, members_t0, mean_t0, dash_x_t0, dash_up_t0, dash_low_t0,
    (theory_x_t0, theory_mean_t0, theory_low_t0, theory_up_t0),
    (theory_x_t0, theory_mean_t0, theory_low_t0, theory_up_t0),
    shape="linear",
)
add_panel(
    2, x_t16, members_t16, mean_t16, x_t16, dash_up_t16, dash_low_t16,
    (x_t16, nngp_mean_t16, nngp_low_t16, nngp_up_t16),
    (x_t16, ntk_mean_t16, ntk_low_t16, ntk_up_t16),
)
add_panel(
    3, x_t256, members_t256, mean_t256, x_t256, dash_up_t256, dash_low_t256,
    (x_t256, nngp_mean_t256, nngp_low_t256, nngp_up_t256),
    (x_t256, ntk_mean_t256, ntk_low_t256, ntk_up_t256),
)
add_panel(
    4, x_t4096, members_t4096, mean_t4096, x_t4096, dash_up_t4096, dash_low_t4096,
    (x_t4096, nngp_mean_t4096, nngp_low_t4096, nngp_up_t4096),
    (x_t4096, ntk_mean_t4096, ntk_low_t4096, ntk_up_t4096),
)

axis_style = dict(
    showline=True, mirror=True, linecolor="black", linewidth=3,
    ticks="outside", ticklen=13, tickwidth=3, tickcolor="black",
    showgrid=False, zeroline=False,
)
for col in range(1, 5):
    left = panel_left[col - 1] - page_margin
    right = panel_right[col - 1] - page_margin
    fig.update_xaxes(
        range=[-3.1416, 3.1416],
        domain=[left / W, right / W],
        tickvals=[-2, 0, 2],
        title=dict(text="<i>x</i>", standoff=21, font=dict(size=37)),
        row=1, col=col, **axis_style,
    )
    fig.update_yaxes(
        range=[-1.5, 1.5],
        domain=[1 - (plot_bottom - page_margin) / H, 1 - (plot_top - page_margin) / H],
        tickvals=[-1.5, -1, -0.5, 0, 0.5, 1, 1.5],
        tickformat=".1f",
        row=1, col=col, **axis_style,
    )
    fig.add_annotation(
        text=f"t = {times[col - 1]}",
        x=(left + right) / 2 / W,
        y=1 - (69 - page_margin) / H,
        xref="paper", yref="paper", xanchor="center", yanchor="middle",
        showarrow=False, font=dict(size=44),
    )
fig.update_yaxes(title=dict(text="<i>f</i>", standoff=26, font=dict(size=37)), row=1, col=1)

legend_style = dict(
    xref="paper", yref="paper", xanchor="left", yanchor="top",
    bgcolor="rgba(255,255,255,0.8)", bordercolor="rgba(204,204,204,0.8)", borderwidth=3,
    font=dict(size=37), itemwidth=81, tracegroupgap=4, entrywidth=335, entrywidthmode="pixels",
    itemclick=False, itemdoubleclick=False,
)
legend_y = 1 - (legend_top - page_margin) / H
fig.update_layout(
    width=W,
    height=H,
    margin=dict(l=0, r=0, t=0, b=0),
    template="none",
    paper_bgcolor="white",
    plot_bgcolor="white",
    font=dict(family="DejaVu Sans", color="black", size=37),
    showlegend=True,
    hovermode=False,
    legend=dict(x=(legend_left[0] - page_margin) / W, y=legend_y, **legend_style),
    legend2=dict(x=(legend_left[1] - page_margin) / W, y=legend_y, **legend_style),
    legend3=dict(x=(legend_left[2] - page_margin) / W, y=legend_y, **legend_style),
    legend4=dict(x=(legend_left[3] - page_margin) / W, y=legend_y, **legend_style),
)

fig.write_html("out.html")
